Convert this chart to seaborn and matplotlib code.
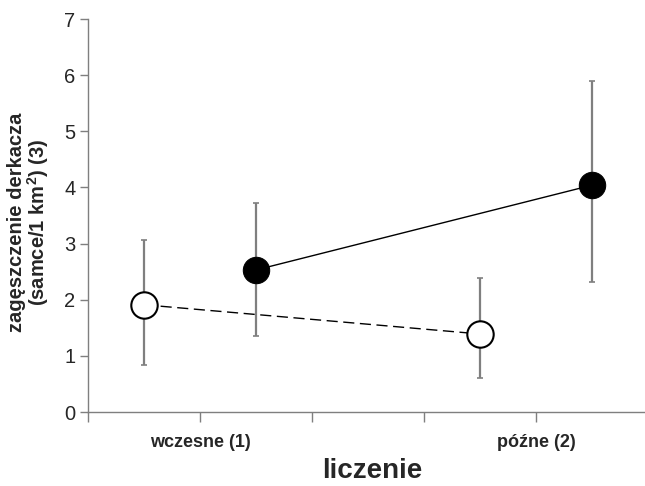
import pandas as pd
import seaborn as sns
import matplotlib.pyplot as plt

# dane
kategorie = ['wczesne (1)', 'późne (2)']
poz_kategorii = [1, 4]
x_otwarte = [0.5, 3.5]
y_otwarte = [1.91, 1.39]
dol_otwarte = [0.84, 0.60]
gora_otwarte = [3.07, 2.38]
x_pelne = [1.5, 4.5]
y_pelne = [2.53, 4.04]
dol_pelne = [1.36, 2.32]
gora_pelne = [3.72, 5.90]

sns.set_style('white')
plt.rcParams['font.family'] = ['Liberation Sans', 'DejaVu Sans']

df_o = pd.DataFrame({'x': x_otwarte, 'y': y_otwarte})
df_p = pd.DataFrame({'x': x_pelne, 'y': y_pelne})

fig = plt.figure(figsize=(6.45, 4.86), dpi=100)
ax = fig.add_axes([88 / 645, 74 / 486, 557 / 645, 393 / 486])

szary = '#7f7f7f'
# słupki błędów
for xs, ys, lo, hi in [(x_otwarte, y_otwarte, dol_otwarte, gora_otwarte),
                       (x_pelne, y_pelne, dol_pelne, gora_pelne)]:
    err = [[y - l for y, l in zip(ys, lo)], [h - y for y, h in zip(ys, hi)]]
    ax.errorbar(xs, ys, yerr=err, fmt='none', ecolor=szary, elinewidth=1.6,
                capsize=2.3, capthick=1.2, zorder=1)

sns.lineplot(data=df_o, x='x', y='y', ax=ax, color='black', linewidth=1,
             dashes=False, linestyle=(0, (8, 4)), marker='o', markersize=19,
             markerfacecolor='white', markeredgecolor='black',
             markeredgewidth=1.5, zorder=3)
sns.lineplot(data=df_p, x='x', y='y', ax=ax, color='black', linewidth=1,
             marker='o', markersize=19, markerfacecolor='black',
             markeredgecolor='black', zorder=3)

ax.set_xlim(0, 557 / 112)
ax.set_ylim(0, 7)
ax.set_yticks(range(0, 8))
ax.set_xticks([0, 1, 2, 3, 4])
etykiety = ['' for _ in range(5)]
for p, k in zip(poz_kategorii, kategorie):
    etykiety[p] = k
ax.set_xticklabels(etykiety, fontsize=13, fontweight='bold')
ax.tick_params(axis='y', labelsize=14.5, length=6, width=1, color=szary,
               direction='out', pad=3, left=True)
ax.tick_params(axis='x', length=7, width=1, color=szary, direction='out',
               pad=9, bottom=True)
sns.despine(ax=ax, top=True, right=True)
for s in ['left', 'bottom']:
    ax.spines[s].set_color(szary)
    ax.spines[s].set_linewidth(1)
ax.set_xlabel('')
ax.set_ylabel('')

fig.text(29 / 645, 1 - 222 / 486,
         'zagęszczenie derkacza\n(samce/1 km$^\\mathregular{2}$) (3)',
         rotation=90, ha='center', va='center', multialignment='center',
         fontsize=14.5, fontweight='bold', linespacing=1.0)
fig.text(372 / 645, 8 / 486, 'liczenie', ha='center', va='baseline',
         fontsize=20, fontweight='bold')

fig.savefig('out.png', dpi=100)
